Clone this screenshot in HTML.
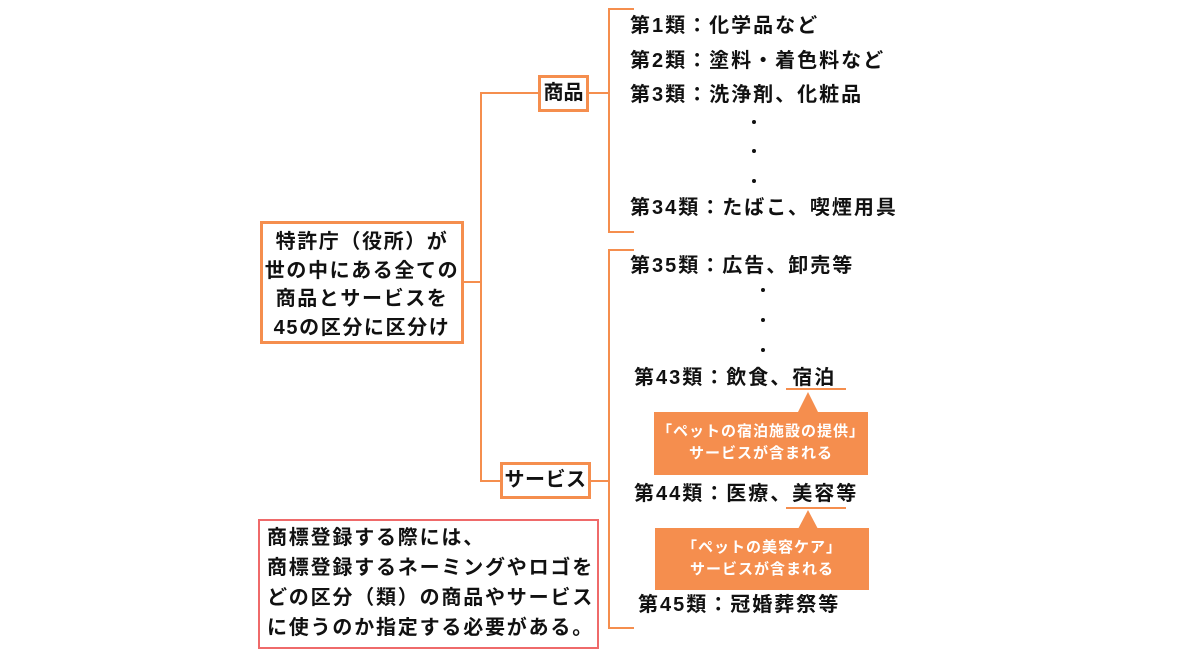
<!DOCTYPE html>
<html><head><meta charset="utf-8"><style>
body{margin:0;width:1200px;height:650px;background:#fff;position:relative;overflow:hidden;font-family:"Liberation Sans","Noto Sans CJK JP",sans-serif;font-weight:bold;color:#111}
.a{position:absolute}
.l{position:absolute;background:#f58e4e}
.t{position:absolute;font-size:20px;letter-spacing:2px;white-space:nowrap;line-height:24px}
.box{position:absolute;border:3px solid #f58e4e;box-sizing:border-box;background:#fff;text-align:center;font-size:20px;letter-spacing:1.6px;white-space:nowrap}
.c{position:absolute;background:#f58e4e;color:#fff;font-size:15px;letter-spacing:1px;text-align:center;line-height:22px;box-sizing:border-box;padding-top:9px;white-space:nowrap}
.d{position:absolute;width:4px;height:4px;border-radius:2px;background:#111}
</style></head><body>
<div class="l" style="left:463px;top:281px;width:18px;height:2px"></div>
<div class="l" style="left:480px;top:92px;width:2px;height:390px"></div>
<div class="l" style="left:480px;top:92px;width:60px;height:2px"></div>
<div class="l" style="left:480px;top:480px;width:22px;height:2px"></div>
<div class="l" style="left:586px;top:92px;width:23px;height:2px"></div>
<div class="l" style="left:608px;top:8px;width:2px;height:225px"></div>
<div class="l" style="left:608px;top:8px;width:26px;height:2px"></div>
<div class="l" style="left:608px;top:231px;width:26px;height:2px"></div>
<div class="l" style="left:588px;top:480px;width:21px;height:2px"></div>
<div class="l" style="left:608px;top:249px;width:2px;height:380px"></div>
<div class="l" style="left:608px;top:249px;width:26px;height:2px"></div>
<div class="l" style="left:608px;top:627px;width:26px;height:2px"></div>

<div class="box" style="left:260px;top:221px;width:204px;height:123px;line-height:28.5px;padding-top:4px">特許庁（役所）が<br>世の中にある全ての<br>商品とサービスを<br>45の区分に区分け</div>
<div class="box" style="left:538px;top:75px;width:51px;height:37px;line-height:31px;letter-spacing:0">商品</div>
<div class="box" style="left:500px;top:462px;width:91px;height:37px;line-height:31px;letter-spacing:0.5px">サービス</div>

<div class="t" style="left:630px;top:14px">第1類：化学品など</div>
<div class="t" style="left:630px;top:49px">第2類：塗料・着色料など</div>
<div class="t" style="left:630px;top:83px">第3類：洗浄剤、化粧品</div>
<div class="d" style="left:752px;top:120px"></div>
<div class="d" style="left:752px;top:149px"></div>
<div class="d" style="left:752px;top:179px"></div>
<div class="t" style="left:630px;top:196px">第34類：たばこ、喫煙用具</div>
<div class="t" style="left:630px;top:254px">第35類：広告、卸売等</div>
<div class="d" style="left:761px;top:288px"></div>
<div class="d" style="left:761px;top:318px"></div>
<div class="d" style="left:761px;top:348px"></div>
<div class="t" style="left:634px;top:366px">第43類：飲食、宿泊</div>
<div class="l" style="left:786px;top:388px;width:60px;height:2px"></div>
<div class="a" style="left:798px;top:392px;width:0;height:0;border-left:10px solid transparent;border-right:10px solid transparent;border-bottom:20px solid #f58e4e"></div>
<div class="c" style="left:654px;top:412px;width:214px;height:63px">「ペットの宿泊施設の提供」<br>サービスが含まれる</div>
<div class="t" style="left:634px;top:482px">第44類：医療、美容等</div>
<div class="l" style="left:786px;top:507px;width:60px;height:2px"></div>
<div class="a" style="left:798px;top:510px;width:0;height:0;border-left:10px solid transparent;border-right:10px solid transparent;border-bottom:19px solid #f58e4e"></div>
<div class="c" style="left:655px;top:528px;width:214px;height:62px">「ペットの美容ケア」<br>サービスが含まれる</div>
<div class="t" style="left:638px;top:593px">第45類：冠婚葬祭等</div>

<div class="a" style="left:258px;top:519px;width:341px;height:130px;border:2px solid #ef6a6a;box-sizing:border-box;font-size:20px;letter-spacing:1.8px;line-height:30px;padding:2px 0 0 7px;white-space:nowrap">商標登録する際には、<br>商標登録するネーミングやロゴを<br>どの区分（類）の商品やサービス<br>に使うのか指定する必要がある。</div>
</body></html>
